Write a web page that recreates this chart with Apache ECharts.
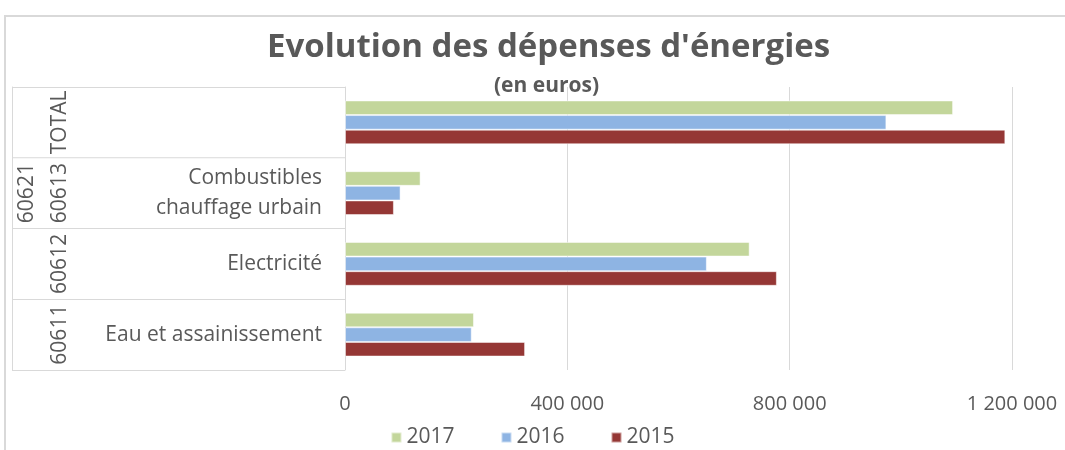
<!DOCTYPE html>
<html>
<head>
<meta charset="utf-8">
<script src="https://cdn.jsdelivr.net/npm/echarts@6/dist/echarts.min.js"></script>
<style>
	html, body { margin: 0; padding: 0; background: #fff; }
	#main { width: 1065px; height: 450px; }
</style>
</head>
<body>
<div id="main"></div>
<script>
// données (du haut vers le bas)
var categories = ['', 'Combustibles\nchauffage urbain', 'Electricité', 'Eau et assainissement'];
var codes = ['TOTAL', '60613', '60612', '60611'];
var groupCodes = ['', '60621', '', ''];
var years = ['2017', '2016', '2015'];
var data2017 = [1094000, 136000, 728000, 232000];
var data2016 = [974000, 100000, 651000, 228000];
var data2015 = [1188000, 88000, 777000, 324000];
var xTicks = [0, 400000, 800000, 1200000];

var font = "'Open Sans', 'Liberation Sans', sans-serif";
var grey = '#595959';
var lineGrey = '#D9D9D9';

function fmt(v) {
	return String(v).replace(/\B(?=(\d{3})+(?!\d))/g, ' ');
}

var chart = echarts.init(document.getElementById('main'));

function barOpt(name, data, color) {
	return {
		name: name,
		type: 'bar',
		yAxisIndex: 0,
		barGap: '0%',
		barCategoryGap: '38%',
		data: data,
		itemStyle: {
			color: color,
			borderColor: 'rgba(255,255,255,0.5)',
			borderWidth: 1
		}
	};
}

var option = {
	animation: false,
	textStyle: { fontFamily: font },
	graphic: [{
		type: 'rect',
		shape: { x: 5, y: 16, width: 1100, height: 500 },
		style: { fill: 'none', stroke: lineGrey, lineWidth: 2 },
		silent: true
	}],
	title: [{
		text: "Evolution des dépenses d'énergies",
		left: 262,
		top: 26,
		textStyle: { fontSize: 33, fontWeight: 'bold', color: grey, fontFamily: font }
	}, {
		text: '(en euros)',
		left: 489,
		top: 71,
		textStyle: { fontSize: 21, fontWeight: 'bold', color: grey, fontFamily: font }
	}],
	legend: {
		data: years,
		left: 'center',
		top: 422,
		icon: 'rect',
		itemWidth: 10,
		itemHeight: 10,
		itemGap: 46,
		textStyle: { fontSize: 21, color: grey, fontFamily: font }
	},
	grid: {
		left: 345,
		right: 53,
		top: 87,
		bottom: 80,
		containLabel: false
	},
	xAxis: {
		type: 'value',
		min: xTicks[0],
		max: xTicks[xTicks.length - 1],
		interval: xTicks[1] - xTicks[0],
		axisLine: { show: false },
		axisTick: { show: false },
		splitLine: { show: true, lineStyle: { color: lineGrey, width: 1 } },
		axisLabel: {
			margin: 24,
			fontSize: 20,
			color: grey,
			fontFamily: font,
			formatter: fmt
		}
	},
	yAxis: [{
		type: 'category',
		inverse: true,
		data: categories,
		axisLine: { show: true, onZero: false, lineStyle: { color: lineGrey, width: 1 } },
		axisTick: { show: true, interval: 0, length: 333, lineStyle: { color: lineGrey, width: 1 } },
		axisLabel: {
			interval: 0,
			margin: 23,
			fontSize: 21,
			lineHeight: 30,
			align: 'right',
			color: grey,
			fontFamily: font
		}
	}, {
		type: 'category',
		inverse: true,
		position: 'left',
		offset: 285,
		data: codes,
		axisLine: { show: false },
		axisTick: { show: false },
		axisLabel: {
			interval: 0,
			rotate: 90,
			margin: 0,
			align: 'center',
			verticalAlign: 'middle',
			fontSize: 21,
			color: grey,
			fontFamily: font
		}
	}, {
		type: 'category',
		inverse: true,
		position: 'left',
		offset: 333,
		data: groupCodes,
		axisLine: { show: true, onZero: false, lineStyle: { color: lineGrey, width: 1 } },
		axisTick: { show: false },
		axisLabel: {
			interval: 0,
			rotate: 90,
			margin: -15,
			align: 'center',
			verticalAlign: 'middle',
			fontSize: 21,
			color: grey,
			fontFamily: font
		}
	}],
	series: [
		barOpt(years[0], data2017, '#C3D69B'),
		barOpt(years[1], data2016, '#8EB4E3'),
		barOpt(years[2], data2015, '#953735')
	]
};
chart.setOption(option, true);
</script>
</body>
</html>
